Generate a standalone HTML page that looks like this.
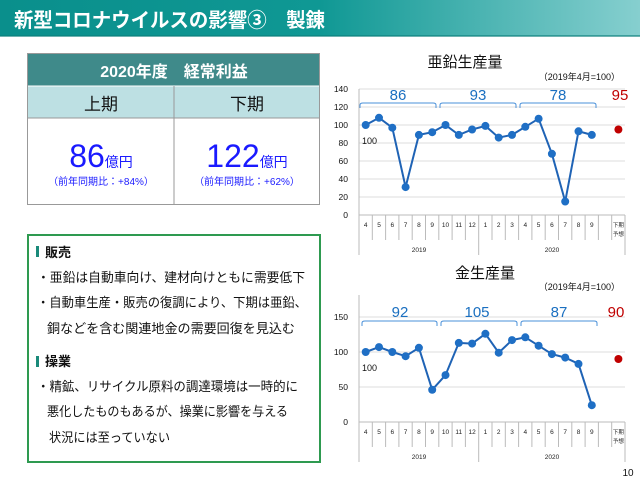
<!DOCTYPE html>
<html><head><meta charset="utf-8"><style>
html,body{margin:0;padding:0;background:#fff;}
body{width:640px;height:480px;overflow:hidden;position:relative;font-family:"Liberation Sans","Noto Sans CJK JP",sans-serif;}
</style></head><body>
<svg width="640" height="480" viewBox="0 0 640 480" xmlns="http://www.w3.org/2000/svg" style="position:absolute;left:0;top:0" font-family="Liberation Sans, Noto Sans CJK JP, sans-serif">
<defs><linearGradient id="hg" x1="0" x2="1" y1="0" y2="0">
<stop offset="0" stop-color="#0a8f8c"/><stop offset="0.5" stop-color="#0f9894"/><stop offset="1" stop-color="#86cfcf"/></linearGradient></defs>
<rect x="0" y="0" width="640" height="36" fill="url(#hg)"/>
<rect x="0" y="35" width="640" height="2" fill="#0b7f7c" opacity="0.6"/>
<text x="14" y="27" font-size="20" font-weight="bold" fill="#fff" textLength="311" lengthAdjust="spacingAndGlyphs">新型コロナウイルスの影響③　製錬</text>

<!-- table -->
<rect x="27.5" y="53.5" width="292" height="151" fill="#fff" stroke="#999" stroke-width="1"/>
<rect x="28" y="54" width="291" height="32" fill="#3f8a8a"/>
<text x="174" y="77" font-size="16" font-weight="bold" fill="#fff" text-anchor="middle">2020年度　経常利益</text>
<rect x="28" y="86" width="291" height="32" fill="#bde0e3"/>
<line x1="28" y1="86" x2="319" y2="86" stroke="#fff" stroke-width="1"/>
<line x1="28" y1="118" x2="319" y2="118" stroke="#999"/>
<line x1="174" y1="86" x2="174" y2="204" stroke="#999"/>
<text x="101" y="110" font-size="17" fill="#111" text-anchor="middle">上期</text>
<text x="247" y="110" font-size="17" fill="#111" text-anchor="middle">下期</text>
<text x="101" y="167" text-anchor="middle" fill="#1a1aff"><tspan font-size="32">86</tspan><tspan font-size="14">億円</tspan></text>
<text x="247" y="167" text-anchor="middle" fill="#1a1aff"><tspan font-size="32">122</tspan><tspan font-size="14">億円</tspan></text>
<text x="101" y="185" font-size="10" fill="#1a1aff" text-anchor="middle">（前年同期比：+84%）</text>
<text x="247" y="185" font-size="10" fill="#1a1aff" text-anchor="middle">（前年同期比：+62%）</text>

<!-- green box -->
<rect x="28" y="235" width="292" height="227" fill="#fff" stroke="#2e9a50" stroke-width="2"/>
<rect x="36" y="246" width="3" height="11" fill="#1a8a7a"/>
<text x="45" y="257" font-size="13" font-weight="bold" fill="#111">販売</text>
<g font-size="13" fill="#111" lengthAdjust="spacingAndGlyphs">
<text x="37" y="282" textLength="268" lengthAdjust="spacingAndGlyphs">・亜鉛は自動車向け、建材向けともに需要低下</text>
<text x="37" y="307" textLength="270" lengthAdjust="spacingAndGlyphs">・自動車生産・販売の復調により、下期は亜鉛、</text>
<text x="47" y="333" textLength="248" lengthAdjust="spacingAndGlyphs">銅などを含む関連地金の需要回復を見込む</text>
<rect x="36" y="356" width="3" height="11" fill="#1a8a7a"/>
<text x="45" y="366" font-weight="bold">操業</text>
<text x="37" y="391" textLength="261" lengthAdjust="spacingAndGlyphs">・精鉱、リサイクル原料の調達環境は一時的に</text>
<text x="47" y="416" textLength="241" lengthAdjust="spacingAndGlyphs">悪化したものもあるが、操業に影響を与える</text>
<text x="49" y="442" textLength="121" lengthAdjust="spacingAndGlyphs">状況には至っていない</text>
</g>

<!-- chart 1 -->
<text x="465" y="67" font-size="15" fill="#111" text-anchor="middle">亜鉛生産量</text>
<text x="620" y="80" font-size="9" fill="#111" text-anchor="end">（2019年4月=100）</text>
<g stroke="#ddd" stroke-width="1">
<line x1="359" y1="89" x2="625" y2="89"/><line x1="359" y1="107" x2="625" y2="107"/><line x1="359" y1="125" x2="625" y2="125"/><line x1="359" y1="143" x2="625" y2="143"/><line x1="359" y1="161" x2="625" y2="161"/><line x1="359" y1="179" x2="625" y2="179"/><line x1="359" y1="197" x2="625" y2="197"/>
</g>
<g font-size="8.5" fill="#111" text-anchor="end">
<text x="348" y="92">140</text><text x="348" y="110">120</text><text x="348" y="128">100</text><text x="348" y="146">80</text><text x="348" y="164">60</text><text x="348" y="182">40</text><text x="348" y="200">20</text><text x="348" y="218">0</text>
</g>
<g stroke="#bbb" stroke-width="1">
<line x1="359" y1="89" x2="359" y2="255"/><line x1="625" y1="215" x2="625" y2="255"/><line x1="359" y1="215" x2="625" y2="215"/><line x1="478.7" y1="215" x2="478.7" y2="255"/>
<line x1="372.3" y1="215" x2="372.3" y2="240"/><line x1="385.6" y1="215" x2="385.6" y2="240"/><line x1="398.9" y1="215" x2="398.9" y2="240"/><line x1="412.2" y1="215" x2="412.2" y2="240"/><line x1="425.5" y1="215" x2="425.5" y2="240"/><line x1="438.8" y1="215" x2="438.8" y2="240"/><line x1="452.1" y1="215" x2="452.1" y2="240"/><line x1="465.4" y1="215" x2="465.4" y2="240"/><line x1="492" y1="215" x2="492" y2="240"/><line x1="505.3" y1="215" x2="505.3" y2="240"/><line x1="518.6" y1="215" x2="518.6" y2="240"/><line x1="531.9" y1="215" x2="531.9" y2="240"/><line x1="545.2" y1="215" x2="545.2" y2="240"/><line x1="558.5" y1="215" x2="558.5" y2="240"/><line x1="571.8" y1="215" x2="571.8" y2="240"/><line x1="585.1" y1="215" x2="585.1" y2="240"/><line x1="598.4" y1="215" x2="598.4" y2="240"/><line x1="611.7" y1="215" x2="611.7" y2="240"/>
</g>
<g font-size="6.5" fill="#222" text-anchor="middle">
<text x="365.7" y="227">4</text><text x="379" y="227">5</text><text x="392.3" y="227">6</text><text x="405.6" y="227">7</text><text x="418.9" y="227">8</text><text x="432.2" y="227">9</text><text x="445.5" y="227">10</text><text x="458.8" y="227">11</text><text x="472.1" y="227">12</text><text x="485.4" y="227">1</text><text x="498.7" y="227">2</text><text x="512" y="227">3</text><text x="525.3" y="227">4</text><text x="538.6" y="227">5</text><text x="551.9" y="227">6</text><text x="565.2" y="227">7</text><text x="578.5" y="227">8</text><text x="591.8" y="227">9</text><text x="618.4" y="227" font-size="5.5">下期</text><text x="618.4" y="236" font-size="5.5">予想</text>
<text x="419" y="252">2019</text><text x="552" y="252">2020</text>
</g>
<g fill="none" stroke="#4a90d9" stroke-width="1">
<path d="M360,108 v-3 q0,-2 3,-2 h70 q3,0 3,2 v3"/><path d="M440,108 v-3 q0,-2 3,-2 h70 q3,0 3,2 v3"/><path d="M520,108 v-3 q0,-2 3,-2 h70 q3,0 3,2 v3"/>
</g>
<g font-size="15" fill="#1a6fc0" text-anchor="middle"><text x="398" y="100">86</text><text x="478" y="100">93</text><text x="558" y="100">78</text></g>
<text x="620" y="100" font-size="15" fill="#c00000" text-anchor="middle">95</text>
<text x="362" y="144" font-size="9" fill="#111">100</text>
<polyline fill="none" stroke="#1f63b5" stroke-width="2" points="365.7,125 379,117.8 392.3,127.7 405.6,187.1 418.9,134.9 432.2,132.2 445.5,125 458.8,134.9 472.1,129.5 485.4,125.9 498.7,137.6 512,134.9 525.3,126.8 538.6,118.7 551.9,153.8 565.2,201.5 578.5,131.3 591.8,134.9"/>
<g fill="#1f6fc5">
<circle cx="365.7" cy="125" r="4"/><circle cx="379" cy="117.8" r="4"/><circle cx="392.3" cy="127.7" r="4"/><circle cx="405.6" cy="187.1" r="4"/><circle cx="418.9" cy="134.9" r="4"/><circle cx="432.2" cy="132.2" r="4"/><circle cx="445.5" cy="125" r="4"/><circle cx="458.8" cy="134.9" r="4"/><circle cx="472.1" cy="129.5" r="4"/><circle cx="485.4" cy="125.9" r="4"/><circle cx="498.7" cy="137.6" r="4"/><circle cx="512" cy="134.9" r="4"/><circle cx="525.3" cy="126.8" r="4"/><circle cx="538.6" cy="118.7" r="4"/><circle cx="551.9" cy="153.8" r="4"/><circle cx="565.2" cy="201.5" r="4"/><circle cx="578.5" cy="131.3" r="4"/><circle cx="591.8" cy="134.9" r="4"/>
</g>
<circle cx="618.4" cy="129.5" r="4" fill="#c00000"/>

<!-- chart 2 -->
<text x="485" y="278" font-size="15" fill="#111" text-anchor="middle">金生産量</text>
<text x="620" y="290" font-size="9" fill="#111" text-anchor="end">（2019年4月=100）</text>
<g stroke="#ddd"><line x1="359" y1="317" x2="625" y2="317"/><line x1="359" y1="352" x2="625" y2="352"/><line x1="359" y1="387" x2="625" y2="387"/></g>
<g font-size="8.5" fill="#111" text-anchor="end"><text x="348" y="320">150</text><text x="348" y="355">100</text><text x="348" y="390">50</text><text x="348" y="425">0</text></g>
<g stroke="#bbb" stroke-width="1">
<line x1="359" y1="295" x2="359" y2="462"/><line x1="625" y1="422" x2="625" y2="462"/><line x1="359" y1="422" x2="625" y2="422"/><line x1="478.7" y1="422" x2="478.7" y2="462"/>
<line x1="372.3" y1="422" x2="372.3" y2="447"/><line x1="385.6" y1="422" x2="385.6" y2="447"/><line x1="398.9" y1="422" x2="398.9" y2="447"/><line x1="412.2" y1="422" x2="412.2" y2="447"/><line x1="425.5" y1="422" x2="425.5" y2="447"/><line x1="438.8" y1="422" x2="438.8" y2="447"/><line x1="452.1" y1="422" x2="452.1" y2="447"/><line x1="465.4" y1="422" x2="465.4" y2="447"/><line x1="492" y1="422" x2="492" y2="447"/><line x1="505.3" y1="422" x2="505.3" y2="447"/><line x1="518.6" y1="422" x2="518.6" y2="447"/><line x1="531.9" y1="422" x2="531.9" y2="447"/><line x1="545.2" y1="422" x2="545.2" y2="447"/><line x1="558.5" y1="422" x2="558.5" y2="447"/><line x1="571.8" y1="422" x2="571.8" y2="447"/><line x1="585.1" y1="422" x2="585.1" y2="447"/><line x1="598.4" y1="422" x2="598.4" y2="447"/><line x1="611.7" y1="422" x2="611.7" y2="447"/>
</g>
<g font-size="6.5" fill="#222" text-anchor="middle">
<text x="365.7" y="434">4</text><text x="379" y="434">5</text><text x="392.3" y="434">6</text><text x="405.6" y="434">7</text><text x="418.9" y="434">8</text><text x="432.2" y="434">9</text><text x="445.5" y="434">10</text><text x="458.8" y="434">11</text><text x="472.1" y="434">12</text><text x="485.4" y="434">1</text><text x="498.7" y="434">2</text><text x="512" y="434">3</text><text x="525.3" y="434">4</text><text x="538.6" y="434">5</text><text x="551.9" y="434">6</text><text x="565.2" y="434">7</text><text x="578.5" y="434">8</text><text x="591.8" y="434">9</text><text x="618.4" y="434" font-size="5.5">下期</text><text x="618.4" y="443" font-size="5.5">予想</text>
<text x="419" y="459">2019</text><text x="552" y="459">2020</text>
</g>
<g fill="none" stroke="#4a90d9" stroke-width="1">
<path d="M362,326 v-3 q0,-2 3,-2 h69 q3,0 3,2 v3"/><path d="M441,326 v-3 q0,-2 3,-2 h70 q3,0 3,2 v3"/><path d="M521,326 v-3 q0,-2 3,-2 h70 q3,0 3,2 v3"/>
</g>
<g font-size="15" fill="#1a6fc0" text-anchor="middle"><text x="400" y="317">92</text><text x="477" y="317">105</text><text x="559" y="317">87</text></g>
<text x="616" y="317" font-size="15" fill="#c00000" text-anchor="middle">90</text>
<text x="362" y="371" font-size="9" fill="#111">100</text>
<polyline fill="none" stroke="#1f63b5" stroke-width="2" points="365.7,352 379,347.1 392.3,352 405.6,356.2 418.9,347.8 432.2,389.8 445.5,375.1 458.8,342.9 472.1,343.6 485.4,333.8 498.7,352.7 512,340.1 525.3,337.3 538.6,345.7 551.9,354.1 565.2,357.6 578.5,363.9 591.8,405.2"/>
<g fill="#1f6fc5">
<circle cx="365.7" cy="352" r="4"/><circle cx="379" cy="347.1" r="4"/><circle cx="392.3" cy="352" r="4"/><circle cx="405.6" cy="356.2" r="4"/><circle cx="418.9" cy="347.8" r="4"/><circle cx="432.2" cy="389.8" r="4"/><circle cx="445.5" cy="375.1" r="4"/><circle cx="458.8" cy="342.9" r="4"/><circle cx="472.1" cy="343.6" r="4"/><circle cx="485.4" cy="333.8" r="4"/><circle cx="498.7" cy="352.7" r="4"/><circle cx="512" cy="340.1" r="4"/><circle cx="525.3" cy="337.3" r="4"/><circle cx="538.6" cy="345.7" r="4"/><circle cx="551.9" cy="354.1" r="4"/><circle cx="565.2" cy="357.6" r="4"/><circle cx="578.5" cy="363.9" r="4"/><circle cx="591.8" cy="405.2" r="4"/>
</g>
<circle cx="618.4" cy="359" r="4" fill="#c00000"/>

<text x="628" y="476" font-size="10" fill="#111" text-anchor="middle">10</text>
</svg>
</body></html>
